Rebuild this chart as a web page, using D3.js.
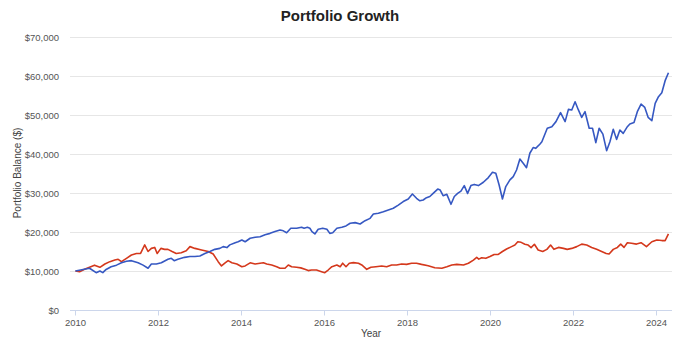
<!DOCTYPE html>
<html><head><meta charset="utf-8">
<script src="https://cdn.jsdelivr.net/npm/d3@7"></script>
<style>body{margin:0;background:#fff}svg{display:block}</style>
</head><body><svg id="c" width="680" height="345"></svg>
<script>
const title = "Portfolio Growth";
const yTicks = [0,10000,20000,30000,40000,50000,60000,70000];
const xTicks = [2010,2012,2014,2016,2018,2020,2022,2024];
const blueYears = [2010.01,2010.35,2010.51,2010.60,2010.67,2010.75,2010.87,2011.00,2011.12,2011.24,2011.36,2011.52,2011.64,2011.76,2011.84,2011.96,2012.08,2012.24,2012.32,2012.39,2012.48,2012.64,2012.77,2012.89,2013.01,2013.13,2013.25,2013.37,2013.49,2013.57,2013.66,2013.73,2013.86,2013.93,2014.02,2014.10,2014.22,2014.34,2014.46,2014.58,2014.70,2014.82,2014.94,2015.02,2015.10,2015.20,2015.34,2015.46,2015.52,2015.60,2015.66,2015.71,2015.78,2015.86,2015.97,2016.07,2016.14,2016.21,2016.31,2016.43,2016.53,2016.63,2016.75,2016.87,2016.99,2017.11,2017.19,2017.31,2017.43,2017.55,2017.67,2017.79,2017.91,2018.03,2018.13,2018.23,2018.31,2018.39,2018.47,2018.55,2018.63,2018.74,2018.80,2018.87,2018.96,2019.06,2019.14,2019.22,2019.30,2019.38,2019.46,2019.54,2019.62,2019.72,2019.84,2019.96,2020.06,2020.14,2020.22,2020.30,2020.38,2020.48,2020.56,2020.64,2020.72,2020.80,2020.88,2020.96,2021.04,2021.10,2021.20,2021.25,2021.38,2021.49,2021.59,2021.70,2021.81,2021.89,2021.97,2022.05,2022.13,2022.21,2022.29,2022.39,2022.47,2022.55,2022.63,2022.72,2022.81,2022.89,2022.97,2023.05,2023.13,2023.21,2023.31,2023.37,2023.47,2023.55,2023.64,2023.73,2023.81,2023.90,2023.98,2024.06,2024.14,2024.22,2024.30];
const blueValues = [10000,10700,9570,10000,9570,10400,11100,11500,12100,12500,12650,12100,11500,10700,11800,11800,12100,13000,13250,12650,13000,13500,13700,13700,13850,14500,15000,15550,15800,16250,16000,16700,17250,17500,17950,17500,18400,18650,18800,19300,19650,20100,20500,20300,19800,20950,20950,21200,20950,21200,20950,20100,19500,20700,20950,20700,19650,19800,20950,21200,21550,22250,22400,22050,22900,23500,24600,24800,25200,25650,26100,26900,27800,28450,29750,28650,28000,28200,28800,29100,29900,31000,30750,29300,29650,27100,29100,29900,30500,31900,29900,31900,32200,31900,32750,33950,35300,35050,32050,28450,31650,33350,34200,35900,38700,37600,36500,40200,41650,41450,42500,43150,46600,47000,48300,50600,48300,51450,51300,53400,51300,49400,50850,46600,46600,42900,46600,45100,40850,43150,46350,43750,46150,45300,47000,47700,48050,50850,52800,51950,49400,48550,53000,54700,55700,58800,60850];
const redYears = [2010.01,2010.11,2010.23,2010.35,2010.47,2010.60,2010.72,2010.84,2010.96,2011.04,2011.12,2011.24,2011.36,2011.48,2011.58,2011.68,2011.76,2011.84,2011.92,2011.98,2012.07,2012.16,2012.24,2012.34,2012.44,2012.56,2012.68,2012.77,2012.89,2013.05,2013.21,2013.33,2013.45,2013.53,2013.61,2013.69,2013.78,2013.90,2014.02,2014.10,2014.22,2014.34,2014.46,2014.54,2014.62,2014.74,2014.86,2014.94,2015.06,2015.14,2015.22,2015.34,2015.44,2015.54,2015.62,2015.70,2015.82,2015.94,2016.02,2016.10,2016.19,2016.31,2016.39,2016.45,2016.53,2016.61,2016.71,2016.83,2016.91,2017.03,2017.13,2017.25,2017.39,2017.51,2017.63,2017.75,2017.87,2017.99,2018.11,2018.23,2018.35,2018.51,2018.67,2018.84,2018.96,2019.08,2019.20,2019.36,2019.48,2019.60,2019.68,2019.73,2019.80,2019.90,2020.00,2020.10,2020.20,2020.30,2020.40,2020.52,2020.60,2020.67,2020.75,2020.84,2020.92,2020.99,2021.07,2021.16,2021.27,2021.37,2021.46,2021.54,2021.65,2021.77,2021.86,2021.97,2022.09,2022.21,2022.33,2022.45,2022.57,2022.69,2022.80,2022.87,2022.97,2023.07,2023.15,2023.23,2023.31,2023.41,2023.53,2023.64,2023.77,2023.90,2024.02,2024.14,2024.22,2024.30];
const redValues = [10000,9830,10430,10950,11500,10950,11800,12400,12800,13000,12400,13250,14100,14500,14500,16700,15000,15800,16050,14500,15800,15550,15550,15000,14500,14700,15200,16250,15800,15400,15000,14350,12400,11300,12000,12650,12100,11800,11100,11300,12100,11800,12000,12100,11800,11550,11100,10700,10700,11550,11100,10950,10800,10430,10100,10250,10250,9830,9570,10250,11100,11550,11100,12000,11100,12000,12150,12000,11550,10430,10950,11100,11300,11100,11550,11550,11800,11700,12000,12000,11700,11350,10850,10700,11100,11550,11700,11550,12000,12800,13500,13050,13400,13250,13700,14250,14250,15000,15650,16250,16650,17500,17350,16850,16650,16000,16850,15400,15000,15550,16650,15550,16050,15800,15550,15800,16250,16900,16650,16050,15550,15000,14500,14350,15550,16050,16900,16050,17250,17100,16900,17250,16250,17500,17950,17800,17800,19500];

const svg = d3.select("#c");
const x = d3.scaleLinear().domain([2010, 2024]).range([75, 656]);
const y = d3.scaleLinear().domain([0, 70000]).range([310, 37]);
const font = "'Liberation Sans', Arial, Helvetica, sans-serif";

svg.append("text").attr("x", 340).attr("y", 21).attr("text-anchor", "middle")
  .attr("font-family", font).attr("font-weight", "bold").attr("font-size", 15)
  .attr("fill", "#222").text(title);

// grid
svg.append("g").selectAll("line").data(yTicks.filter(d => d > 0)).join("line")
  .attr("x1", 70).attr("x2", 672).attr("y1", d => Math.round(y(d)) + 0.5).attr("y2", d => Math.round(y(d)) + 0.5)
  .attr("stroke", "#e6e6e6").attr("stroke-width", 1);

// y labels
svg.append("g").selectAll("text").data(yTicks).join("text")
  .attr("x", 59).attr("y", d => y(d) + 3.5).attr("text-anchor", "end")
  .attr("font-family", font).attr("font-size", 9.5).attr("fill", "#555")
  .text(d => "$" + d3.format(",")(d));

// x axis
const xAxis = d3.axisBottom(x).tickValues(xTicks).tickFormat(d3.format("d")).tickSize(5).tickPadding(4);
const gx = svg.append("g").attr("transform", "translate(0,310.5)").call(xAxis);
gx.select(".domain").attr("d", "M70,0H672").attr("stroke", "#ccd6eb");
gx.selectAll(".tick line").attr("stroke", "#ccd6eb");
gx.selectAll(".tick text").attr("font-family", font).attr("font-size", 9.5).attr("fill", "#555");

svg.append("text").attr("x", 371).attr("y", 337).attr("text-anchor", "middle")
  .attr("font-family", font).attr("font-size", 10).attr("fill", "#444").text("Year");
svg.append("text").attr("transform", "translate(21,173) rotate(-90)").attr("text-anchor", "middle")
  .attr("font-family", font).attr("font-size", 10).attr("fill", "#444").text("Portfolio Balance ($)");

const line = d3.line().x(d => x(d[0])).y(d => y(d[1]));
svg.append("path").datum(redYears.map((t, i) => [t, redValues[i]]))
  .attr("d", line).attr("fill", "none").attr("stroke", "#d4381c").attr("stroke-width", 1.6).attr("stroke-linejoin", "round");
svg.append("path").datum(blueYears.map((t, i) => [t, blueValues[i]]))
  .attr("d", line).attr("fill", "none").attr("stroke", "#3658c2").attr("stroke-width", 1.6).attr("stroke-linejoin", "round");
</script></body></html>
